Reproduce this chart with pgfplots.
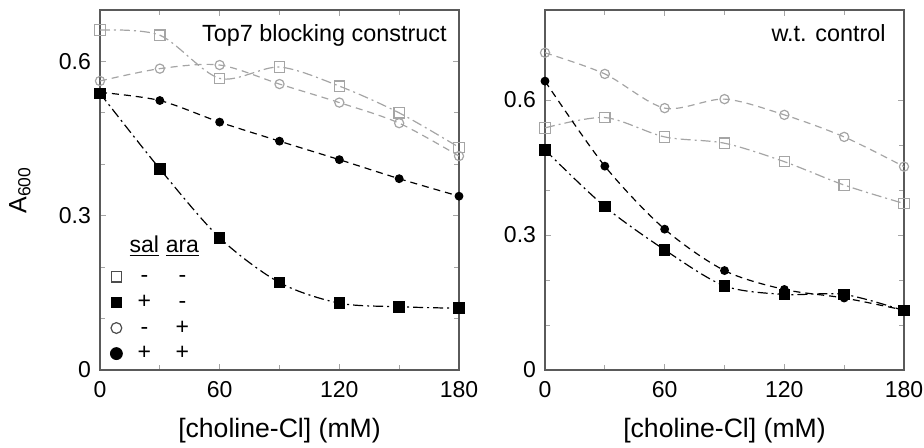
\documentclass[border=0pt]{standalone}
\usepackage{pgfplots}
\pgfplotsset{compat=1.18}
\usepackage{fontspec}
\setmainfont{Liberation Sans}
\definecolor{axgray}{RGB}{90,90,90}
\definecolor{opengray}{RGB}{165,165,165}

\pgfplotsset{
  panel/.style={
    scale only axis, width=179.5pt, height=180pt,
    xmin=0, xmax=180, xtick={0,60,120,180},
    minor x tick num=1,
    ymin=0, minor y tick num=2,
    axis line style={axgray, line width=0.7pt},
    tick style={opengray, line width=0.5pt},
    major tick length=3pt, minor tick length=2.5pt,
    tick align=inside,
    /pgf/number format/assume math mode=true,
    ticklabel style={font=\fontsize{11.5}{13}\selectfont},
    xticklabel style={yshift=-2pt},
    yticklabel style={xshift=-1pt},
    /pgf/number format/fixed,
    every axis x label/.style={at={(axis description cs:0.5,-0.167)},anchor=center,font=\fontsize{13.3}{15}\selectfont},
    clip=false,
  },
  dashdot/.style={dash pattern=on 5pt off 2pt on 1pt off 2pt},
  dsh/.style={dash pattern=on 3.5pt off 2.5pt},
  osq/.style={opengray, line width=0.6pt, dashdot, smooth, mark=square, mark size=2.6pt, mark options={solid, fill=white}},
  fsq/.style={black, line width=0.6pt, dashdot, smooth, mark=square*, mark size=2.6pt, mark options={solid}},
  oci/.style={opengray, line width=0.6pt, dsh, smooth, mark=o, mark size=2.3pt, mark options={solid, fill=white}},
  fci/.style={black, line width=0.6pt, dsh, smooth, mark=*, mark size=1.9pt, mark options={solid}},
}

\begin{document}
\begin{tikzpicture}
\path[use as bounding box] (-50pt,-38.5pt) rectangle (412pt,185pt);
\begin{axis}[panel,
  ymax=0.70, ytick={0,0.3,0.6},
  xlabel={[choline-Cl] (mM)},
  ylabel={A\textsubscript{600}},
  every axis y label/.style={at={(axis description cs:-0.223,0.5)},rotate=90,anchor=center,font=\fontsize{12.5}{14}\selectfont},
  legend image code/.code={\draw[#1] plot coordinates {(0pt,0pt)};},
  legend cell align=left,
  legend style={draw=none, fill=none, at={(axis description cs:0,0)}, anchor=south west, xshift=2pt, yshift=0pt,
    font=\fontsize{11.5}{12}\selectfont, row sep=0.8pt,
    nodes={inner xsep=2pt, inner ysep=1pt, text height=8pt, text depth=2pt}},
]
\addlegendimage{empty legend}
\addlegendentry{\raisebox{2.5pt}{\makebox[18pt]{\underline{sal}}\makebox[20pt]{\underline{ara}}}}
\addlegendimage{only marks, mark=square, mark size=2.6pt, black!70, line width=0.6pt}
\addlegendentry{\makebox[18pt]{-}\makebox[20pt]{-}}
\addlegendimage{only marks, mark=square*, mark size=2.7pt, black}
\addlegendentry{\makebox[18pt]{+}\makebox[20pt]{-}}
\addlegendimage{only marks, mark=o, mark size=2.7pt, black!70, line width=0.6pt}
\addlegendentry{\makebox[18pt]{-}\makebox[20pt]{+}}
\addlegendimage{only marks, mark=*, mark size=3pt, black}
\addlegendentry{\makebox[18pt]{+}\makebox[20pt]{+}}

\addplot[osq, forget plot] coordinates {(0,0.661)(30,0.651)(60,0.567)(90,0.589)(120,0.552)(150,0.500)(180,0.433)};
\addplot[oci, forget plot] coordinates {(0,0.562)(30,0.586)(60,0.593)(90,0.556)(120,0.520)(150,0.480)(180,0.416)};
\addplot[fci, forget plot] coordinates {(0,0.540)(30,0.524)(60,0.482)(90,0.445)(120,0.409)(150,0.372)(180,0.338)};
\addplot[fsq, forget plot] coordinates {(0,0.538)(30,0.391)(60,0.257)(90,0.170)(120,0.130)(150,0.123)(180,0.120)};

\node[anchor=north east, inner sep=0pt, font=\fontsize{11.7}{13}\selectfont]
  at (rel axis cs:1,1) [xshift=-6pt, yshift=-7pt] {Top7 blocking construct};
\end{axis}

\begin{axis}[panel, xshift=222.5pt,
  ymax=0.80, ytick={0,0.3,0.6},
  xlabel={[choline-Cl] (mM)},
]
\addplot[oci] coordinates {(0,0.705)(30,0.658)(60,0.582)(90,0.602)(120,0.567)(150,0.518)(180,0.452)};
\addplot[osq] coordinates {(0,0.538)(30,0.561)(60,0.518)(90,0.504)(120,0.463)(150,0.411)(180,0.370)};
\addplot[fci] coordinates {(0,0.642)(30,0.453)(60,0.313)(90,0.221)(120,0.179)(150,0.160)(180,0.133)};
\addplot[fsq] coordinates {(0,0.489)(30,0.363)(60,0.267)(90,0.187)(120,0.168)(150,0.168)(180,0.132)};

\node[anchor=north east, inner sep=0pt, font=\fontsize{11.7}{13}\selectfont]
  at (rel axis cs:1,1) [xshift=-9pt, yshift=-7pt] {w.t. control};
\end{axis}
\end{tikzpicture}
\end{document}
